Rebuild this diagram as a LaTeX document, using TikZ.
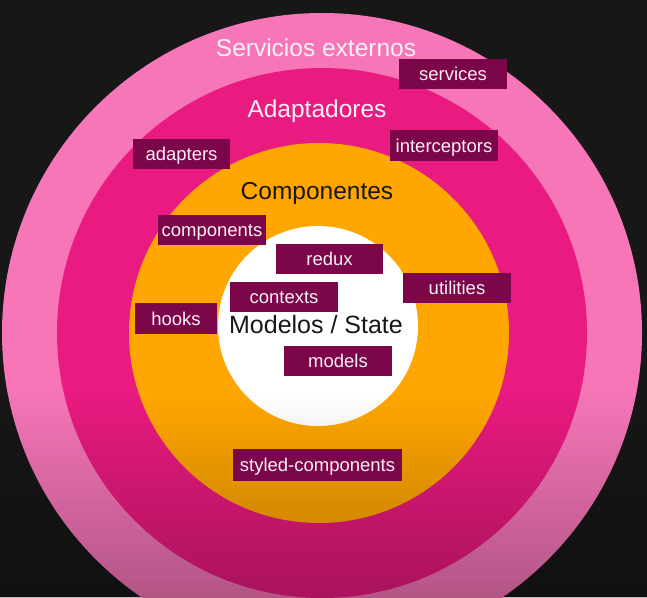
\documentclass[tikz,border=0pt]{standalone}
\usepackage{fontspec}
\setmainfont{Liberation Sans}
\usetikzlibrary{calc}

\definecolor{fondo}{RGB}{23,23,23}
\definecolor{rosa}{RGB}{246,118,184}
\definecolor{capamagenta}{RGB}{233,26,128}
\definecolor{naranja}{RGB}{255,166,0}
\definecolor{caja}{RGB}{124,6,74}
\definecolor{textoclaro}{RGB}{248,240,245}
\definecolor{textooscuro}{RGB}{26,22,20}

\begin{document}
\begin{tikzpicture}[x=1pt,y=-1pt,
    titulo/.style={font=\fontsize{24.5}{28}\selectfont, anchor=base},
    etiqueta/.style={fill=caja, text=textoclaro, font=\fontsize{18.5}{22}\selectfont,
        inner sep=0pt, minimum height=30pt, text height=13.6pt, text depth=0pt}]
    \useasboundingbox (0,0) rectangle (647,597);
    \clip (0,0) rectangle (647,597);
    \fill[fondo] (0,0) rectangle (647,597);

    \coordinate (O) at (322,333);
    \coordinate (N) at (319,333);
    \coordinate (W) at (318,326);

    % capas
    \fill[rosa] (O) circle[radius=320pt];
    \fill[capamagenta] (O) circle[radius=265pt];
    \fill[naranja] (N) circle[radius=190pt];
    \fill[white] (W) circle[radius=100pt];

    % sombra abajo, por franjas
    \foreach \i in {0,...,41}
        \fill[black, opacity=0.0066*\i] (0,390+5*\i) rectangle (647,395.2+5*\i);

    \node[titulo, text=textoclaro] (servicios) at (316,56) {Servicios externos};
    \node[titulo, text=textoclaro] (adaptadores) at (317,117) {Adaptadores};
    \node[titulo, text=textooscuro] (componentes) at (317,199) {Componentes};
    \node[titulo, text=textooscuro, font=\fontsize{25}{28}\selectfont] (modelos) at (316,333) {Modelos / State};

    \node[etiqueta, minimum width=108pt] (services) at (453,74) {services};
    \node[etiqueta, minimum width=97pt] (adapters) at (181.5,154) {adapters};
    \node[etiqueta, minimum width=108pt, minimum height=31pt] (interceptors) at (444,145.5) {interceptors};
    \node[etiqueta, minimum width=108pt] (components) at (212,230) {components};
    \node[etiqueta, minimum width=107pt] (redux) at (329.5,259) {redux};
    \node[etiqueta, minimum width=108pt] (contexts) at (284,297) {contexts};
    \node[etiqueta, minimum width=82pt, minimum height=31pt] (hooks) at (176,318.5) {hooks};
    \node[etiqueta, minimum width=108pt] (utilities) at (457,288) {utilities};
    \node[etiqueta, minimum width=108pt] (models) at (338,361) {models};
    \node[etiqueta, minimum width=169pt, minimum height=32pt] (styled) at (317.5,465) {styled-components};
\end{tikzpicture}
\end{document}
